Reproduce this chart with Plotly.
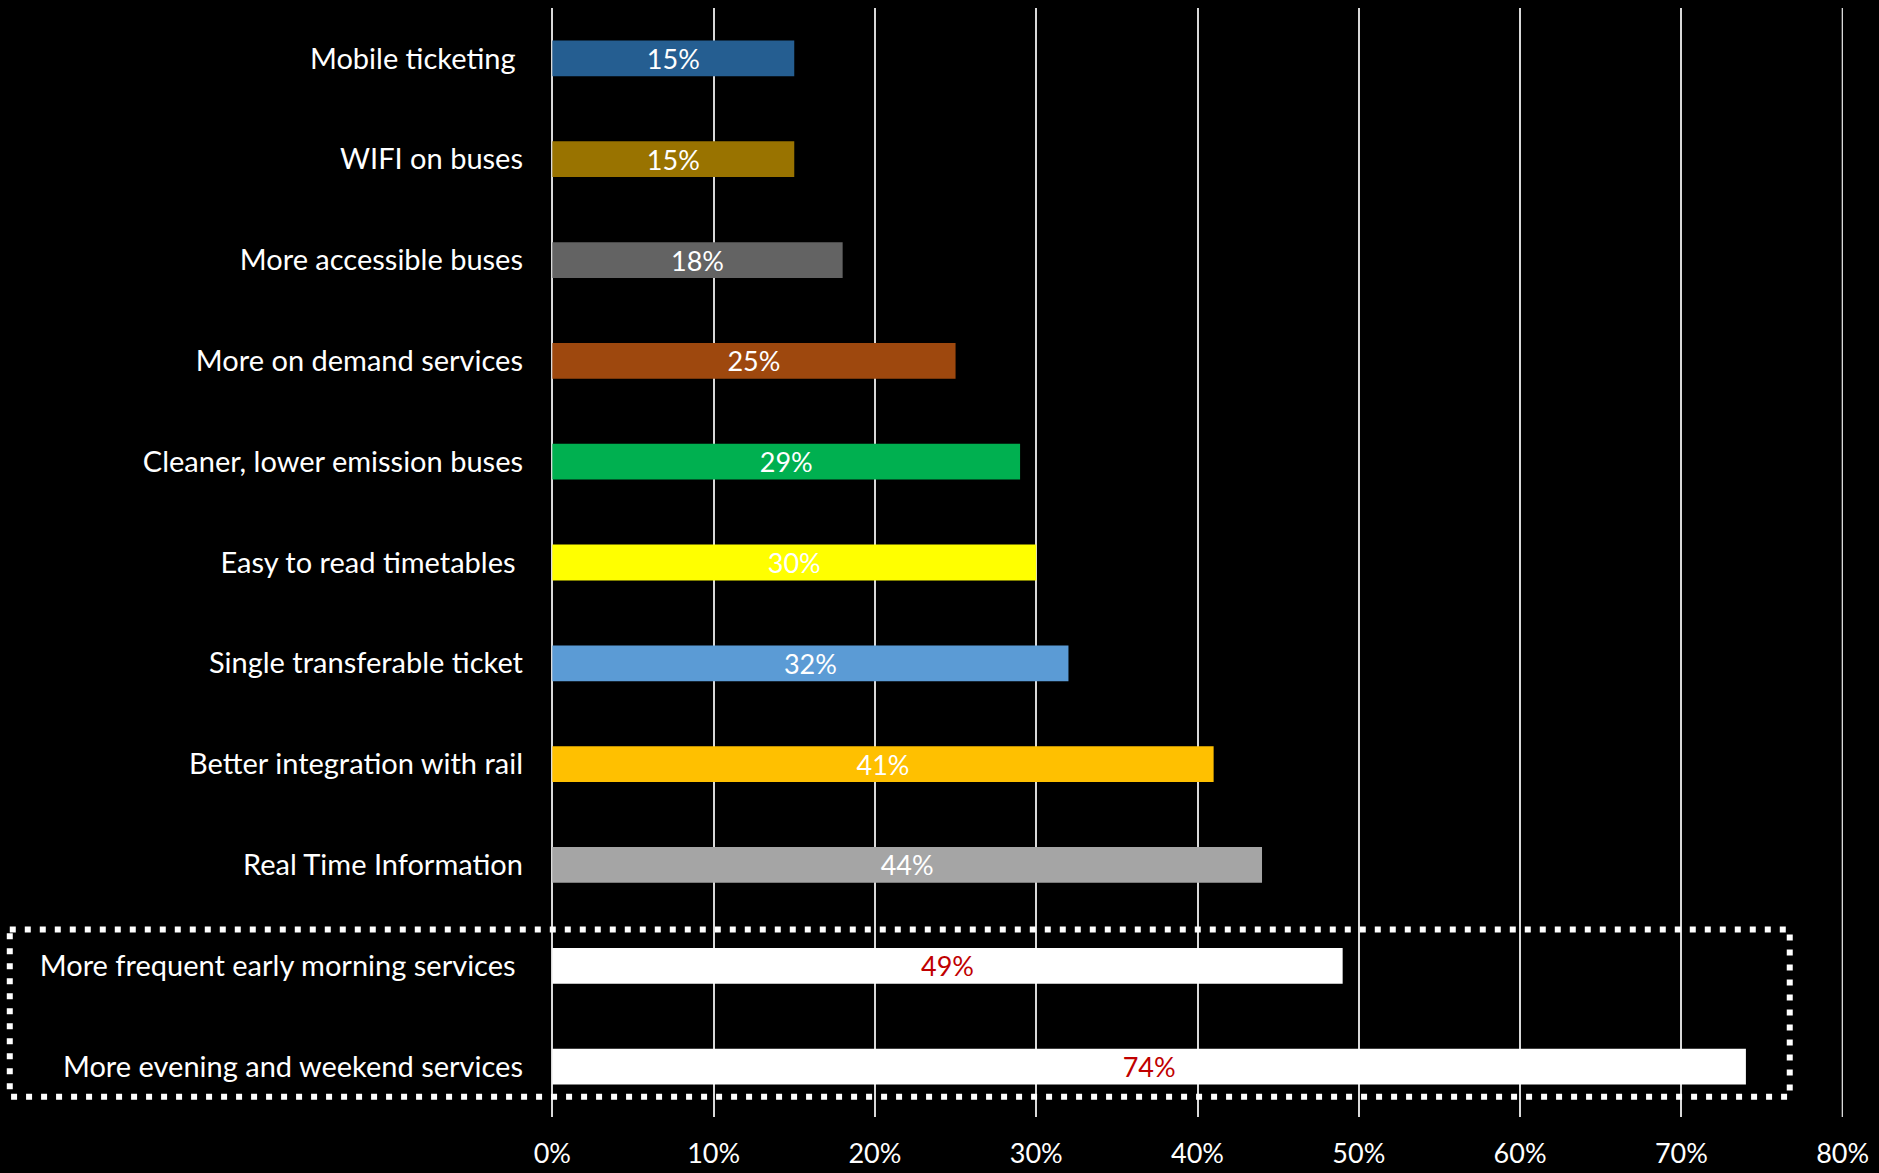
import plotly.graph_objects as go

categories = [
    "Mobile ticketing\u00a0",
    "WIFI on buses",
    "More accessible buses",
    "More on demand services",
    "Cleaner, lower emission buses",
    "Easy to read timetables\u00a0",
    "Single transferable ticket",
    "Better integration with rail",
    "Real Time Information",
    "More frequent early morning services\u00a0",
    "More evening and weekend services",
]
values = [15, 15, 18, 25, 29, 30, 32, 41, 44, 49, 74]
bar_colors = ["#255E91", "#997300", "#636363", "#9E480E", "#00B050", "#FFFF00",
              "#5B9BD5", "#FFC000", "#A5A5A5", "#FFFFFF", "#FFFFFF"]
label_colors = ["#FFFFFF"] * 9 + ["#C00000", "#C00000"]
tick_vals = [0, 10, 20, 30, 40, 50, 60, 70, 80]
tick_text = ["0%", "10%", "20%", "30%", "40%", "50%", "60%", "70%", "80%"]

FONT = "Lato, 'Open Sans', sans-serif"
GRID = "#D9D9D9"

fig = go.Figure(go.Bar(
    y=categories,
    x=values,
    orientation="h",
    marker=dict(color=bar_colors, line=dict(width=0)),
    text=[f"{v}%" for v in values],
    textposition="inside",
    insidetextanchor="middle",
    textangle=0,
    textfont=dict(family=FONT, size=27, color=label_colors),
    hoverinfo="skip",
))

fig.update_layout(
    width=1879, height=1173,
    paper_bgcolor="#000000",
    plot_bgcolor="#000000",
    margin=dict(l=552, r=36, t=8, b=56, autoexpand=False),
    bargap=0.645,
    showlegend=False,
    uniformtext=dict(minsize=27, mode="show"),
    xaxis=dict(
        range=[-0.02, 80.02],
        tickvals=tick_vals,
        ticktext=tick_text,
        showgrid=True,
        gridcolor=GRID,
        gridwidth=2,
        zeroline=True,
        zerolinecolor=GRID,
        zerolinewidth=2,
        showline=False,
        ticks="",
        tickfont=dict(family=FONT, size=27, color="#FFFFFF"),
        ticklabelstandoff=18,
        fixedrange=True,
    ),
    yaxis=dict(
        type="category",
        categoryorder="array",
        categoryarray=categories,
        autorange="reversed",
        showgrid=False,
        zeroline=False,
        showline=False,
        ticks="",
        tickfont=dict(family=FONT, size=29, color="#FFFFFF"),
        ticklabelstandoff=28,
        fixedrange=True,
    ),
    shapes=[
        # gridline at the 80% end of the axis
        dict(
            type="line",
            xref="x", yref="paper",
            x0=tick_vals[-1], x1=tick_vals[-1], y0=0, y1=1,
            line=dict(color=GRID, width=2),
            layer="below",
        ),
        dict(
            type="rect",
            xref="paper", yref="y",
            x0=-0.42, x1=(76.7 / 80),
            y0=8.64, y1=10.30,
            line=dict(color="#FFFFFF", width=6, dash="6px,9px"),
            fillcolor="rgba(0,0,0,0)",
            layer="above",
        ),
    ],
)

fig.write_html(
    "out.html",
    config={"displayModeBar": False},
    post_script="document.body.style.margin='0px';document.body.style.overflow='hidden';document.body.style.background='#000';",
)
